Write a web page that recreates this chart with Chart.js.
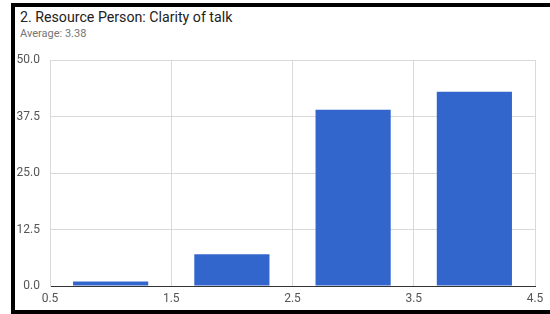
<!DOCTYPE html>
<html>
<head>
<meta charset="utf-8">
<script src="https://cdn.jsdelivr.net/npm/chart.js@4"></script>
<style>
  html, body { margin: 0; padding: 0; background: #fff; }
  body { width: 550px; height: 314px; position: relative; overflow: hidden; font-family: Roboto, sans-serif; }
  .frame { position: absolute; left: 11px; top: 3px; width: 600px; height: 303px;
           border: 4px solid #000; border-right: none; }
  .wrap { position: absolute; left: 15px; top: 7px; width: 535px; height: 303px; }
  .title { position: absolute; left: 20px; top: 9px; font-size: 14.2px; line-height: 17px; color: #222; white-space: nowrap; }
  .sub { position: absolute; left: 20px; top: 27px; font-size: 11px; line-height: 13px; color: #757575; white-space: nowrap; }
</style>
</head>
<body>
<div class="frame"></div>
<div class="title">2. Resource Person: Clarity of talk</div>
<div class="sub">Average: 3.38</div>
<div class="wrap"><canvas id="clarityChart"></canvas></div>
<script>
/* Resource person clarity rating - histogram of responses */
var ratings = [1, 2, 3, 4];
var counts = [1, 7, 39, 43];
var xTicks = [0.5, 1.5, 2.5, 3.5, 4.5];
var yTicks = [0, 12.5, 25, 37.5, 50];

new Chart(document.getElementById('clarityChart').getContext('2d'), {
    type: 'bar',
    data: {
        datasets: [{
            data: ratings.map(function(r, i) { return { x: r, y: counts[i] }; }),
            backgroundColor: '#3366CC',
            categoryPercentage: 1,
            barPercentage: 0.62
        }]
    },
    options: {
        responsive: true,
        maintainAspectRatio: false,
        animation: false,
        layout: { padding: { left: 0, right: 15, top: 53, bottom: 0 } },
        plugins: {
            legend: { display: false },
            tooltip: { enabled: false }
        },
        scales: {
            x: {
                type: 'linear', min: 0.5, max: 4.5, offset: false,
                afterBuildTicks: function(scale) { scale.ticks = xTicks.map(function(v) { return { value: v }; }); },
                afterFit: function(scale) { scale.height = 24; },
                grid: { color: '#d9d9d9', drawTicks: false, offset: false },
                border: { color: '#333', width: 1 },
                ticks: { color: '#555', padding: 6, font: { family: 'Roboto', size: 12 },
                         callback: function(v) { return v.toFixed(1); } }
            },
            y: {
                min: 0, max: 50,
                afterBuildTicks: function(scale) { scale.ticks = yTicks.map(function(v) { return { value: v }; }); },
                afterFit: function(scale) { scale.width = 35; },
                grid: { drawTicks: false, color: function(c) { return c.tick && c.tick.value === 0 ? '#333' : '#d9d9d9'; } },
                border: { color: '#d9d9d9' },
                ticks: { color: '#555', padding: 10, font: { family: 'Roboto', size: 12 },
                         callback: function(v) { return v.toFixed(1); } }
            }
        }
    }
});
</script>
</body>
</html>
